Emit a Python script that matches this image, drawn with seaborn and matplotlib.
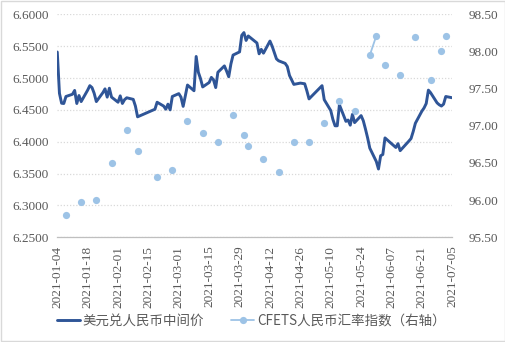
import numpy as np
import pandas as pd
import matplotlib
matplotlib.use("Agg")
import matplotlib.pyplot as plt
import matplotlib.ticker as mticker
from matplotlib.lines import Line2D
from matplotlib.patches import Rectangle
import seaborn as sns

# ---------------- data ----------------
trade_dates = [
    "2021-01-04", "2021-01-05", "2021-01-06", "2021-01-07", "2021-01-08",
    "2021-01-11", "2021-01-12", "2021-01-13", "2021-01-14", "2021-01-15",
    "2021-01-18", "2021-01-19", "2021-01-20", "2021-01-21", "2021-01-22",
    "2021-01-25", "2021-01-26", "2021-01-27", "2021-01-28", "2021-01-29",
    "2021-02-01", "2021-02-02", "2021-02-03", "2021-02-04", "2021-02-05",
    "2021-02-08", "2021-02-09", "2021-02-10",
    "2021-02-18", "2021-02-19",
    "2021-02-22", "2021-02-23", "2021-02-24", "2021-02-25", "2021-02-26",
    "2021-03-01", "2021-03-02", "2021-03-03", "2021-03-04", "2021-03-05",
    "2021-03-08", "2021-03-09", "2021-03-10", "2021-03-11", "2021-03-12",
    "2021-03-15", "2021-03-16", "2021-03-17", "2021-03-18", "2021-03-19",
    "2021-03-22", "2021-03-23", "2021-03-24", "2021-03-25", "2021-03-26",
    "2021-03-29", "2021-03-30", "2021-03-31", "2021-04-01", "2021-04-02",
    "2021-04-06", "2021-04-07", "2021-04-08", "2021-04-09",
    "2021-04-12", "2021-04-13", "2021-04-14", "2021-04-15", "2021-04-16",
    "2021-04-19", "2021-04-20", "2021-04-21", "2021-04-22", "2021-04-23",
    "2021-04-26", "2021-04-27", "2021-04-28", "2021-04-29", "2021-04-30",
    "2021-05-06", "2021-05-07",
    "2021-05-10", "2021-05-11", "2021-05-12", "2021-05-13", "2021-05-14",
    "2021-05-17", "2021-05-18", "2021-05-19", "2021-05-20", "2021-05-21",
    "2021-05-24", "2021-05-25", "2021-05-26", "2021-05-27", "2021-05-28",
    "2021-05-31", "2021-06-01", "2021-06-02", "2021-06-03", "2021-06-04",
    "2021-06-07", "2021-06-08", "2021-06-09", "2021-06-10", "2021-06-11",
    "2021-06-15", "2021-06-16", "2021-06-17", "2021-06-18",
    "2021-06-21", "2021-06-22", "2021-06-23", "2021-06-24", "2021-06-25",
    "2021-06-28", "2021-06-29", "2021-06-30", "2021-07-01", "2021-07-02",
    "2021-07-05",
]

usdcny_mid = [
    6.5408, 6.4760, 6.4604, 6.4600, 6.4710,
    6.4745, 6.4805, 6.4600, 6.4725, 6.4630,
    6.4810, 6.4880, 6.4850, 6.4760, 6.4630,
    6.4770, 6.4830, 6.4700, 6.4840, 6.4700,
    6.4620, 6.4720, 6.4600, 6.4660, 6.4690,
    6.4665, 6.4560, 6.4391,
    6.4510, 6.4620,
    6.4560, 6.4510, 6.4590, 6.4500, 6.4710,
    6.4755, 6.4700, 6.4555, 6.4720, 6.4890,
    6.4800, 6.5338, 6.5090, 6.4990, 6.4860,
    6.4930, 6.5010, 6.4970, 6.4850, 6.5090,
    6.5190, 6.5110, 6.5020, 6.5220, 6.5360,
    6.5410, 6.5670, 6.5713, 6.5590, 6.5660,
    6.5550, 6.5380, 6.5450, 6.5390,
    6.5580, 6.5500, 6.5400, 6.5300, 6.5270,
    6.5230, 6.5180, 6.5040, 6.4970, 6.4900,
    6.4920, 6.4915, 6.4910, 6.4800, 6.4672,
    6.4880, 6.4660,
    6.4490, 6.4350, 6.4250, 6.4250, 6.4580,
    6.4320, 6.4340, 6.4260, 6.4430, 6.4300,
    6.4410, 6.4330, 6.4200, 6.4060, 6.3900,
    6.3690, 6.3572, 6.3780, 6.3800, 6.4060,
    6.3970, 6.3940, 6.3910, 6.3970, 6.3860,
    6.4010, 6.4050, 6.4160, 6.4290,
    6.4480, 6.4530, 6.4600, 6.4810, 6.4770,
    6.4610, 6.4580, 6.4560, 6.4590, 6.4710,
    6.4690,
]

cfets_dates = [
    "2021-01-08", "2021-01-15", "2021-01-22", "2021-01-29", "2021-02-05",
    "2021-02-10", "2021-02-19", "2021-02-26", "2021-03-05", "2021-03-12",
    "2021-03-19", "2021-03-26", "2021-03-31", "2021-04-02", "2021-04-09",
    "2021-04-16", "2021-04-23", "2021-04-30", "2021-05-07", "2021-05-14",
    "2021-05-21", "2021-05-28", "2021-05-31", "2021-06-04", "2021-06-11",
    "2021-06-18", "2021-06-25", "2021-06-30", "2021-07-02",
]
cfets_index = [
    95.80, 95.98, 96.00, 96.50, 96.95,
    96.66, 96.31, 96.40, 97.06, 96.90,
    96.78, 97.15, 96.88, 96.73, 96.56,
    96.38, 96.78, 96.78, 97.04, 97.34,
    97.20, 97.95, 98.21, 97.82, 97.68,
    98.19, 97.62, 98.01, 98.21,
]

series_names = ["美元兑人民币中间价", "CFETS人民币汇率指数（右轴）"]
x_tick_dates = pd.date_range("2021-01-04", "2021-07-05", freq="14D")
left_ticks = [6.25, 6.30, 6.35, 6.40, 6.45, 6.50, 6.55, 6.60]
right_ticks = [95.5, 96.0, 96.5, 97.0, 97.5, 98.0, 98.5]

# ---------------- table ----------------
df = pd.DataFrame({"date": pd.to_datetime(trade_dates), "usdcny": usdcny_mid})
cf = pd.Series(cfets_index, index=pd.to_datetime(cfets_dates))
df["cfets"] = df["date"].map(cf)

# ---------------- style ----------------
sns.set_theme(style="white")
SERIF = ["Liberation Serif", "DejaVu Serif"]
plt.rcParams["font.family"] = SERIF
DARK = "#2F5597"
LIGHT = "#9DC3E6"
TXT = "#595959"
GRID = "#D9D9D9"

fig = plt.figure(figsize=(5.06, 3.42), dpi=100)
fig.patch.set_facecolor("white")
ax = fig.add_axes([0.1132, 0.3061, 0.7806, 0.6521])

sns.lineplot(data=df, x="date", y="usdcny", ax=ax, color=DARK,
             linewidth=2.1, legend=False)

ax.set_ylim(6.25, 6.60)
ax.set_yticks(left_ticks)
ax.yaxis.set_major_formatter(mticker.FormatStrFormatter("%.4f"))
ax.set_xlim(pd.Timestamp("2021-01-04"), pd.Timestamp("2021-07-05"))
ax.set_xticks(x_tick_dates)
ax.set_xticklabels([d.strftime("%Y-%m-%d") for d in x_tick_dates],
                   rotation=90)
ax.set_xlabel("")
ax.set_ylabel("")
ax.grid(axis="y", linestyle=(0, (1, 1.5)), color=GRID, linewidth=0.9)
ax.grid(axis="x", visible=False)
for s in ["left", "right", "top"]:
    ax.spines[s].set_visible(False)
ax.spines["bottom"].set_color("#BFBFBF")
ax.spines["bottom"].set_linewidth(0.9)
ax.tick_params(axis="y", length=0, pad=6, labelsize=9.5, labelcolor=TXT)
ax.tick_params(axis="x", length=3, width=0.8, color="#BFBFBF", direction="out",
               pad=3, labelsize=9.5, labelcolor=TXT)

ax2 = ax.twinx()
ax2.plot(df["date"], df["cfets"], color=LIGHT, marker="o", markersize=5.2,
         linewidth=1.3, markeredgewidth=0)
ax2.set_ylim(95.5, 98.5)
ax2.set_yticks(right_ticks)
ax2.yaxis.set_major_formatter(mticker.FormatStrFormatter("%.2f"))
for s in ["left", "right", "top", "bottom"]:
    ax2.spines[s].set_visible(False)
ax2.tick_params(axis="y", length=0, pad=12, labelsize=9.5, labelcolor=TXT)
ax2.grid(False)

for lab in ax.get_xticklabels() + ax.get_yticklabels() + ax2.get_yticklabels():
    lab.set_fontfamily(SERIF)

handles = [
    Line2D([], [], color=DARK, linewidth=2.1),
    Line2D([], [], color=LIGHT, linewidth=1.3, marker="o", markersize=5.2,
           markeredgewidth=0),
]
leg = fig.legend(handles, series_names, loc="center",
                 bbox_to_anchor=(0.497, 1 - 320.5 / 342), ncol=2,
                 frameon=False, handlelength=1.7, handletextpad=0.2,
                 columnspacing=2.0,
                 prop={"family": ["Noto Sans CJK SC", "DejaVu Sans"],
                       "size": 9.7})
for t in leg.get_texts():
    t.set_color(TXT)

fig.patches.append(Rectangle((0.001, 0.0015), 0.997, 0.996,
                             transform=fig.transFigure, fill=False,
                             edgecolor="#D9D9D9", linewidth=1.0))

fig.savefig("out.png", dpi=100)
